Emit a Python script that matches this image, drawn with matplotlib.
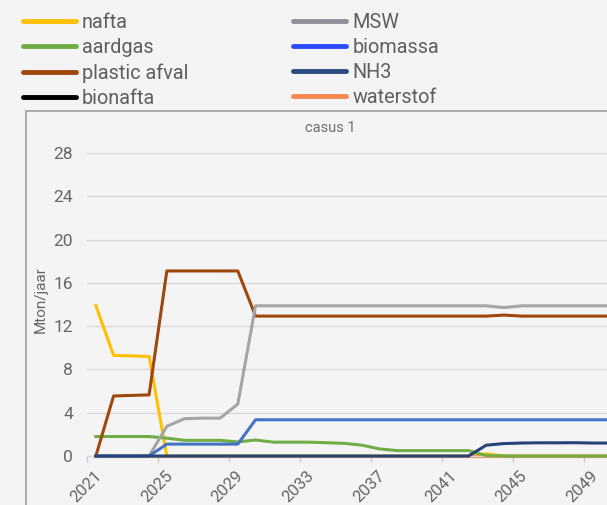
import matplotlib
matplotlib.use('Agg')
import matplotlib.pyplot as plt
import matplotlib.transforms as mtransforms
from matplotlib.lines import Line2D
from matplotlib.patches import Rectangle

plt.rcParams['font.family'] = ['Roboto', 'DejaVu Sans']

# Data (Mton/jaar per year)
years = list(range(2021, 2051))
nafta = [13.9, 9.3, 9.25, 9.2, 0] + [0] * 17 + [0.2] + [0] * 7
aardgas = [1.8, 1.8, 1.8, 1.8, 1.65, 1.45, 1.45, 1.45, 1.3, 1.48, 1.28, 1.28,
           1.28, 1.23, 1.17, 1.0, 0.65, 0.5, 0.5, 0.5, 0.5, 0.5, 0.05] + [0] * 7
plastic_afval = [0, 5.55, 5.6, 5.65] + [17.1] * 5 + [12.93] * 14 + [13.02] + [12.93] * 6
bionafta = [0] * 30
msw = [0] * 4 + [2.75, 3.45, 3.5, 3.5, 4.8] + [13.88] * 14 + [13.72] + [13.88] * 6
biomassa = [0] * 4 + [1.1] * 5 + [3.35] * 21
nh3 = [0] * 22 + [1.0, 1.15, 1.2, 1.22, 1.22, 1.23, 1.2, 1.2]
waterstof = [0] * 30

legend_labels = ['nafta', 'aardgas', 'plastic afval', 'bionafta',
                 'MSW', 'biomassa', 'NH3', 'waterstof']
legend_colors = ['#ffc000', '#70ad47', '#9e480e', '#000000',
                 '#90909a', '#2a4bff', '#2a4a80', '#f4894f']

ytick_vals = [0, 4, 8, 12, 16, 20, 24, 28]
xtick_years = list(range(2021, 2051, 4))

bg = '#f4f4f4'
txt = '#666666'

fig = plt.figure(figsize=(6.07, 5.05), dpi=100, facecolor=bg)
ax = fig.add_axes([0.1433, 0.097, 0.877, 0.600], facecolor=bg)

lw = 2.2
series = [
    (nafta, '#ffc000', 2), (bionafta, '#000000', 2), (waterstof, '#f4894f', 2),
    (aardgas, '#70ad47', 3), (plastic_afval, '#9e480e', 3), (msw, '#a5a5a5', 3),
    (biomassa, '#4472c4', 4), (nh3, '#264478', 5),
]
for vals, col, z in series:
    ax.plot(years, vals, color=col, lw=lw, zorder=z, clip_on=False)

ax.set_xlim(2020.5, 2050.5)
ax.set_ylim(0, 28)
ax.set_yticks(ytick_vals)
ax.yaxis.grid(True, color='#d9d9d9', lw=1)
ax.set_axisbelow(True)
ax.tick_params(axis='y', length=0, pad=10, labelsize=12.5, labelcolor=txt)

# year labels: centred on a point below-left of each category
ax.set_xticks(xtick_years)
ax.set_xticklabels([str(y) for y in xtick_years], rotation=45, ha='center',
                   va='center', rotation_mode='anchor')
ax.set_xticks([y - 0.5 for y in xtick_years], minor=True)
ax.tick_params(axis='x', which='major', length=0, pad=0, labelsize=12, labelcolor=txt)
ax.tick_params(axis='x', which='minor', length=4, width=1, color='#c8c8c8')
offset = mtransforms.ScaledTranslation(-10 / 100, -31 / 100, fig.dpi_scale_trans)
for lab in ax.get_xticklabels():
    lab.set_transform(lab.get_transform() + offset)

for s in ['top', 'right', 'left']:
    ax.spines[s].set_visible(False)
ax.spines['bottom'].set_color('#d9d9d9')
ax.spines['bottom'].set_linewidth(1)

# chart frame and texts
fig.patches.append(Rectangle((0.0428, -0.05), 1.1, 0.830, transform=fig.transFigure,
                             facecolor='none', edgecolor='#a6a6a6', lw=1.3))
fig.text(0.544, 1 - 128 / 505, 'casus 1', ha='center', va='center',
         fontsize=10.5, color='#707070')
fig.text(41 / 607, 1 - 300 / 505, 'Mton/jaar', rotation=90, ha='center', va='center',
         fontsize=11, color=txt)

handles = [Line2D([], [], color=c, lw=3.5, solid_capstyle='round') for c in legend_colors]
fig.legend(handles, legend_labels, loc='upper left', bbox_to_anchor=(23 / 607, 0.974),
           ncol=2, frameon=False, fontsize=14.3, labelcolor='#5f5f5f',
           handlelength=2.66, handletextpad=0.3, columnspacing=5.3,
           labelspacing=0.3, borderpad=0, borderaxespad=0)

fig.savefig('out.png', dpi=100, facecolor=bg)
